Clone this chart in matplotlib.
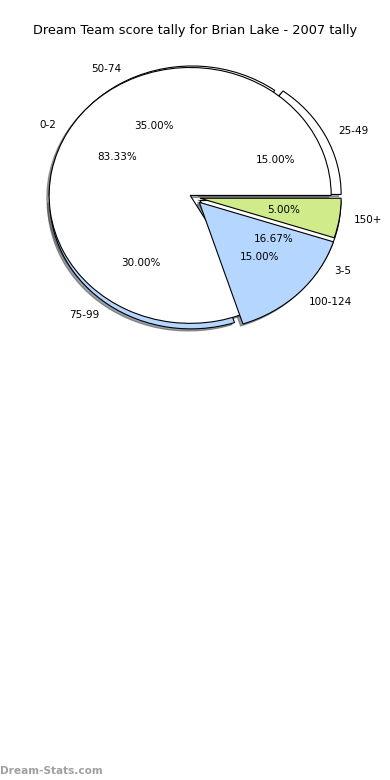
import matplotlib
matplotlib.use("Agg")
import matplotlib.pyplot as plt

# data
title = "Dream Team score tally for Brian Lake - 2007 tally"

inner_labels = ["0-2", "3-5"]
inner_values = [83.33, 16.67]
inner_colors = ["white", "white"]
inner_explode = [0.03, 0.05]

outer_labels = ["25-49", "50-74", "75-99", "100-124", "150+"]
outer_values = [15, 35, 30, 15, 5]
outer_colors = ["white", "white", "#b5d6ff", "#b5d6ff", "#d0eb8a"]
outer_explode = [0.05, 0.03, 0.035, 0.055, 0.045]

fig = plt.figure(figsize=(3.9, 7.8), dpi=100)
ax = fig.add_axes([0.045, 0.542, 0.904, 0.41])

wp = {"edgecolor": "black", "linewidth": 0.8}
shadow = {"ox": -0.012, "oy": -0.012}

w_out, t_out, p_out = ax.pie(outer_values, labels=outer_labels, colors=outer_colors,
                             explode=outer_explode, autopct="%1.2f%%", shadow=shadow,
                             startangle=0, wedgeprops=wp,
                             textprops={"fontsize": 7.5})
w_in, t_in, p_in = ax.pie(inner_values, labels=inner_labels, colors=inner_colors,
                          explode=inner_explode, autopct="%1.2f%%", shadow=shadow,
                          startangle=0, wedgeprops=wp,
                          textprops={"fontsize": 7.5})

# stacking as it looks in the original
for w in w_out[:3]:
    w.set_zorder(1)
w_in[1].set_zorder(1.5)
w_in[0].set_zorder(2)
for w in w_out[3:]:
    w.set_zorder(3)
for t in list(t_out) + list(p_out) + list(t_in) + list(p_in):
    t.set_zorder(5)

ax.set_aspect("auto")
ax.set_xlim(-1.25, 1.25)
ax.set_ylim(-1.25, 1.25)
ax.axis("off")

fig.text(0.5, 0.961, title, ha="center", va="center", fontsize=9.3)
fig.text(0.0, 0.012, "Dream-Stats.com", ha="left", va="center", fontsize=7.6,
         color="#a0a0a0", fontweight="bold")

fig.savefig("out.png", dpi=100)
